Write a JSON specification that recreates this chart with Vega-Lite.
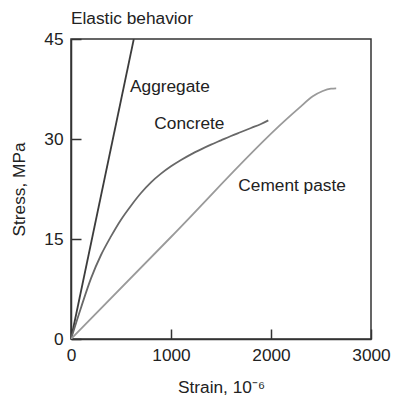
{
  "$schema": "https://vega.github.io/schema/vega-lite/v6.json",
  "width": 300,
  "height": 300,
  "autosize": {"type": "none"},
  "padding": {"left": 71, "top": 39, "right": 23, "bottom": 57},
  "background": "white",
  "config": {
    "view": {"stroke": "#333", "strokeWidth": 1.5},
    "font": "Liberation Sans"
  },
  "title": {
    "text": "Elastic behavior",
    "anchor": "start",
    "frame": "group",
    "baseline": "alphabetic",
    "offset": 13,
    "dy": 24,
    "fontSize": 17.3,
    "fontWeight": "normal",
    "color": "#222",
    "font": "Liberation Sans"
  },
  "datasets": {
    "curves": [
      {"series": "Aggregate", "strain": 0, "stress": 0},
      {"series": "Aggregate", "strain": 628, "stress": 45},
      {"series": "Concrete", "strain": 0, "stress": 0},
      {"series": "Concrete", "strain": 100, "stress": 4.7},
      {"series": "Concrete", "strain": 200, "stress": 9.1},
      {"series": "Concrete", "strain": 300, "stress": 12.6},
      {"series": "Concrete", "strain": 400, "stress": 15.4},
      {"series": "Concrete", "strain": 500, "stress": 17.9},
      {"series": "Concrete", "strain": 600, "stress": 20.0},
      {"series": "Concrete", "strain": 700, "stress": 21.9},
      {"series": "Concrete", "strain": 800, "stress": 23.5},
      {"series": "Concrete", "strain": 900, "stress": 24.8},
      {"series": "Concrete", "strain": 1000, "stress": 25.9},
      {"series": "Concrete", "strain": 1100, "stress": 26.85},
      {"series": "Concrete", "strain": 1200, "stress": 27.7},
      {"series": "Concrete", "strain": 1300, "stress": 28.45},
      {"series": "Concrete", "strain": 1400, "stress": 29.15},
      {"series": "Concrete", "strain": 1500, "stress": 29.8},
      {"series": "Concrete", "strain": 1600, "stress": 30.45},
      {"series": "Concrete", "strain": 1700, "stress": 31.05},
      {"series": "Concrete", "strain": 1800, "stress": 31.65},
      {"series": "Concrete", "strain": 1900, "stress": 32.25},
      {"series": "Concrete", "strain": 1973, "stress": 32.8},
      {"series": "Cement paste", "strain": 0, "stress": 0},
      {"series": "Cement paste", "strain": 1000, "stress": 15.3},
      {"series": "Cement paste", "strain": 2150, "stress": 32.9},
      {"series": "Cement paste", "strain": 2285, "stress": 34.7},
      {"series": "Cement paste", "strain": 2418, "stress": 36.4},
      {"series": "Cement paste", "strain": 2518, "stress": 37.2},
      {"series": "Cement paste", "strain": 2600, "stress": 37.55},
      {"series": "Cement paste", "strain": 2652, "stress": 37.6}
    ],
    "labels": [
      {"label": "Aggregate", "strain": 590, "stress": 37.1},
      {"label": "Concrete", "strain": 833, "stress": 31.5},
      {"label": "Cement paste", "strain": 1673, "stress": 22.2}
    ]
  },
  "layer": [
    {
      "data": {"name": "curves"},
      "mark": {"type": "line", "interpolate": "monotone", "clip": true, "strokeWidth": 1.8},
      "encoding": {
        "x": {
          "field": "strain",
          "type": "quantitative",
          "scale": {"domain": [0, 3000], "nice": false},
          "axis": {
            "values": [0, 1000, 2000, 3000],
            "format": "d",
            "grid": false,
            "tickSize": -10,
            "tickColor": "#333",
            "tickWidth": 1.5,
            "domainColor": "#333",
            "domainWidth": 1.5,
            "labelFontSize": 17.3,
            "labelFont": "Liberation Sans",
            "labelColor": "#222",
            "labelPadding": 17,
            "labelFlush": false,
            "labelOverlap": false,
            "title": "Strain, 10⁻⁶",
            "titleFont": "Liberation Sans",
            "titleFontSize": 17.3,
            "titleFontWeight": "normal",
            "titleColor": "#222",
            "titleX": 150,
            "titleY": 53,
            "titleAlign": "center",
            "titleBaseline": "alphabetic"
          }
        },
        "y": {
          "field": "stress",
          "type": "quantitative",
          "scale": {"domain": [0, 45], "nice": false},
          "axis": {
            "values": [0, 15, 30, 45],
            "grid": false,
            "tickSize": -10,
            "tickColor": "#333",
            "tickWidth": 1.5,
            "domainColor": "#333",
            "domainWidth": 1.5,
            "labelFontSize": 17.3,
            "labelFont": "Liberation Sans",
            "labelColor": "#222",
            "labelPadding": 18,
            "labelFlush": false,
            "labelOverlap": false,
            "title": "Stress, MPa",
            "titleFont": "Liberation Sans",
            "titleFontSize": 17.3,
            "titleFontWeight": "normal",
            "titleColor": "#222",
            "titleAngle": -90,
            "titleX": -46.5,
            "titleY": 150,
            "titleAlign": "center",
            "titleBaseline": "alphabetic"
          }
        },
        "color": {
          "field": "series",
          "type": "nominal",
          "scale": {"domain": ["Aggregate", "Concrete", "Cement paste"], "range": ["#3c3c3c", "#686868", "#9a9a9a"]},
          "legend": null
        }
      }
    },
    {
      "data": {"name": "labels"},
      "mark": {"type": "text", "align": "left", "baseline": "alphabetic", "fontSize": 17.3, "font": "Liberation Sans", "color": "#222"},
      "encoding": {
        "x": {"field": "strain", "type": "quantitative"},
        "y": {"field": "stress", "type": "quantitative"},
        "text": {"field": "label"}
      }
    }
  ]
}
